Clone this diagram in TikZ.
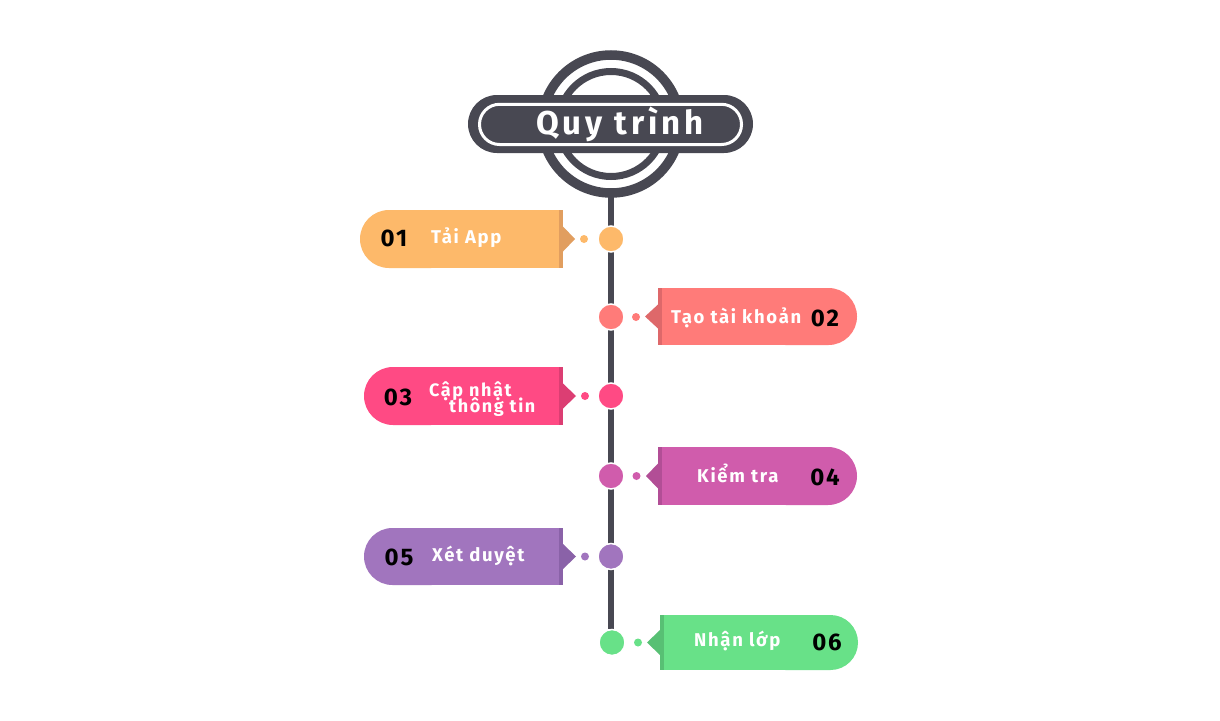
\documentclass[tikz,border=0pt]{standalone}
\usepackage{fontspec}
\setmainfont{Fira Sans}[LetterSpace=9]
\usetikzlibrary{positioning}

\definecolor{ink}{RGB}{72,72,82}
\definecolor{appcol}{RGB}{253,185,106}
\definecolor{appdark}{RGB}{225,158,95}
\definecolor{acccol}{RGB}{255,123,121}
\definecolor{accdark}{RGB}{222,104,106}
\definecolor{infocol}{RGB}{255,74,132}
\definecolor{infodark}{RGB}{220,62,115}
\definecolor{checkcol}{RGB}{208,92,172}
\definecolor{checkdark}{RGB}{178,78,150}
\definecolor{approvecol}{RGB}{161,117,190}
\definecolor{approvedark}{RGB}{138,98,168}
\definecolor{classcol}{RGB}{104,225,136}
\definecolor{classdark}{RGB}{88,192,116}

\begin{document}
\begin{tikzpicture}[x=1pt,y=-1pt,
    dot/.style={circle,minimum size=26pt,inner sep=0pt,draw=white,line width=1.5pt},
    tinydot/.style={circle,minimum size=8pt,inner sep=0pt},
    num/.style={anchor=base,inner sep=0pt,text=black,font=\fontsize{24}{24}\selectfont\bfseries\addfontfeature{LetterSpace=8}},
    lbl/.style={anchor=base,inner sep=0pt,text=white,font=\fontsize{18.5}{18.5}\selectfont\bfseries},
    title/.style={anchor=base,inner sep=0pt,text=white,font=\fontsize{33}{33}\selectfont\bfseries\addfontfeature{LetterSpace=12}}]
  \fill[white] (0,0) rectangle (1220,720) ;
  \useasboundingbox (0,0) rectangle (1220,720) ;
  % stem
  \coordinate (stem top) at (611,190) ;
  \coordinate (stem end) at (611,629) ;
  \draw[color=ink,line width=6.5pt] (stem top) -- (stem end) ;
  % header
  \coordinate (hub) at (611,124) ;
  \draw[color=ink,line width=9.5pt] (hub) circle (69pt) ;
  \draw[color=ink,line width=7pt] (hub) circle (52.5pt) ;
  \fill[color=ink,rounded corners=29pt] (468,95) rectangle (753,153) ;
  \draw[color=white,line width=3pt,rounded corners=20pt] (479.5,104.3) rectangle (741.5,144.5) ;
  \node[title] (title) at (620,134) {Quy trình} ;
  % 01
  \fill[color=appcol,rounded corners=29pt] (360,210) rectangle (460,268) ;
  \fill[color=appcol] (420,210) rectangle (559,268) ;
  \fill[color=appdark] (559,210) rectangle (563,268) ;
  \fill[color=appdark] (563,226.5) -- (575,239) -- (563,251.5) -- cycle ;
  \node[tinydot,fill=appcol] (s1) at (584,239) {} ;
  \node[dot,fill=appcol] (d1) at (611,239) {} ;
  \node[num] (n1) at (394,246.5) {01} ;
  \node[lbl,anchor=base west] (t1) at (431,243.5) {Tải App} ;
  % 02
  \fill[color=acccol,rounded corners=28.5pt] (757,288) rectangle (857,345) ;
  \fill[color=acccol] (662,288) rectangle (800,345) ;
  \fill[color=accdark] (658,288) rectangle (662,345) ;
  \fill[color=accdark] (658,304.5) -- (645,316.5) -- (658,328.5) -- cycle ;
  \node[tinydot,fill=acccol] (s2) at (636,317) {} ;
  \node[dot,fill=acccol] (d2) at (611,317) {} ;
  \node[lbl,anchor=base west] (t2) at (671,323.5) {Tạo tài khoản} ;
  \node[num] (n2) at (825,326.5) {02} ;
  % 03
  \fill[color=infocol,rounded corners=29pt] (364,367) rectangle (460,425) ;
  \fill[color=infocol] (420,367) rectangle (559,425) ;
  \fill[color=infodark] (559,367) rectangle (563,425) ;
  \fill[color=infodark] (563,383.5) -- (576,396) -- (563,408.5) -- cycle ;
  \node[tinydot,fill=infocol] (s3) at (585,396) {} ;
  \node[dot,fill=infocol] (d3) at (611,396) {} ;
  \node[num] (n3) at (398,405) {03} ;
  \node[lbl,anchor=base west,font=\fontsize{18}{18}\selectfont\bfseries] (t3) at (429,396) {Cập nhật} ;
  \node[lbl,anchor=base west,font=\fontsize{18}{18}\selectfont\bfseries] (t3b) at (449,412.5) {thông tin} ;
  % 04
  \fill[color=checkcol,rounded corners=29pt] (757,447) rectangle (857,505) ;
  \fill[color=checkcol] (662,447) rectangle (800,505) ;
  \fill[color=checkdark] (658,447) rectangle (662,505) ;
  \fill[color=checkdark] (658,463.5) -- (646,476) -- (658,488.5) -- cycle ;
  \node[tinydot,fill=checkcol] (s4) at (636.5,476) {} ;
  \node[dot,fill=checkcol] (d4) at (611,476) {} ;
  \node[lbl,anchor=base west] (t4) at (697,482.5) {Kiểm tra} ;
  \node[num] (n4) at (825,485.5) {04} ;
  % 05
  \fill[color=approvecol,rounded corners=28.5pt] (364,528) rectangle (460,585) ;
  \fill[color=approvecol] (420,528) rectangle (559,585) ;
  \fill[color=approvedark] (559,528) rectangle (563,585) ;
  \fill[color=approvedark] (563,544) -- (576,556.5) -- (563,569) -- cycle ;
  \node[tinydot,fill=approvecol] (s5) at (585,556.5) {} ;
  \node[dot,fill=approvecol] (d5) at (611,556.5) {} ;
  \node[num] (n5) at (399,565.5) {05} ;
  \node[lbl,anchor=base west] (t5) at (432,561.5) {Xét duyệt} ;
  % 06
  \fill[color=classcol,rounded corners=27.5pt] (758,615) rectangle (858,670) ;
  \fill[color=classcol] (664,615) rectangle (800,670) ;
  \fill[color=classdark] (660,615) rectangle (664,670) ;
  \fill[color=classdark] (660,630) -- (647,642.5) -- (660,655) -- cycle ;
  \node[tinydot,fill=classcol] (s6) at (638,642.5) {} ;
  \node[dot,fill=classcol] (d6) at (612,642.5) {} ;
  \node[lbl,anchor=base west] (t6) at (694,646.5) {Nhận lớp} ;
  \node[num] (n6) at (827,650) {06} ;
\end{tikzpicture}
\end{document}
